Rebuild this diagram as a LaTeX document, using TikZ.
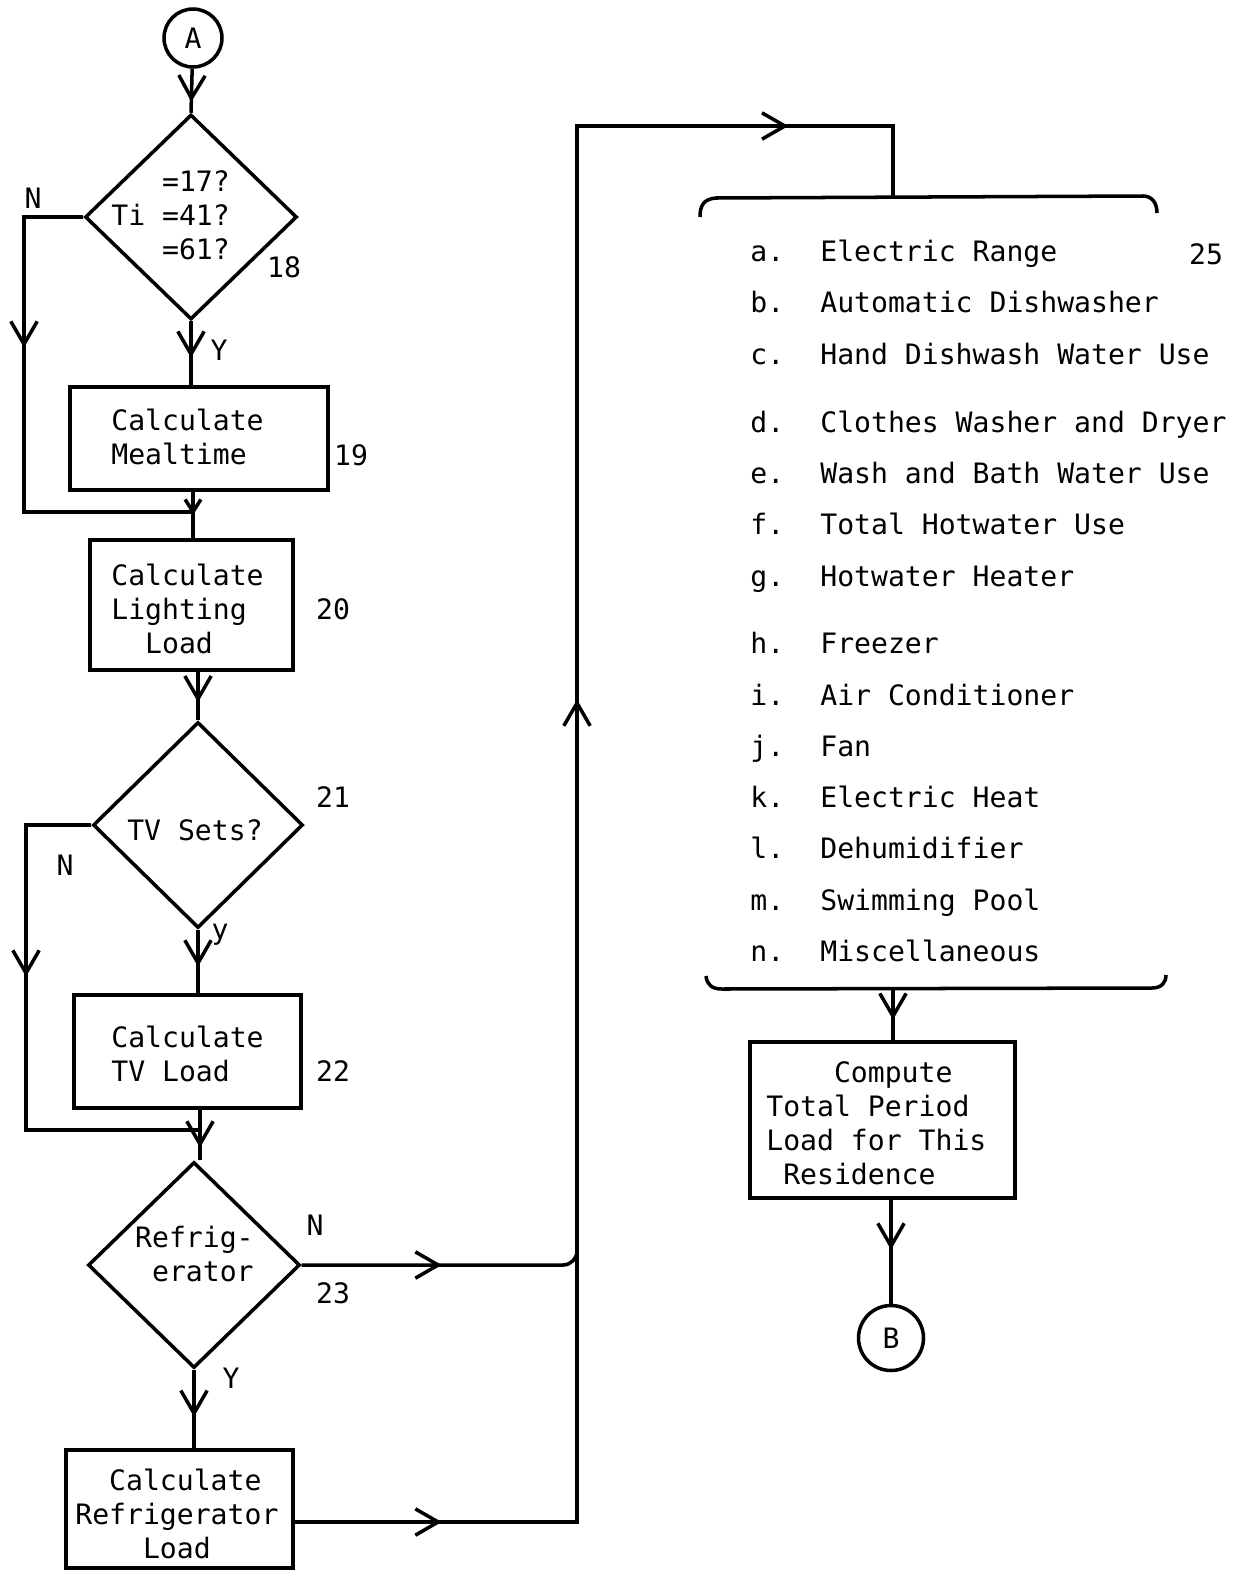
\documentclass[tikz,border=0pt]{standalone}
\usepackage{fontspec}
\newfontfamily\mono{DejaVu Sans Mono}
\usetikzlibrary{shapes.geometric,arrows.meta,decorations.markings}
\begin{document}
\begin{tikzpicture}[x=0.02cm,y=-0.02cm,
  ln/.style={line width=2pt},
  myv/.tip={Straight Barb[length=13pt,width=15pt]},
  smallv/.tip={Straight Barb[length=7pt,width=9pt]},
  midv/.style={postaction={decorate,decoration={markings,mark=at position #1 with {\arrow{myv}}}}},
  minv/.style={postaction={decorate,decoration={markings,mark=at position #1 with {\arrow{smallv}}}}},
  boxs/.style={draw,line width=2pt,rectangle,inner sep=0pt},
  dia/.style={draw,line width=2pt,diamond,inner sep=0pt},
  circ/.style={draw,line width=2pt,circle,inner sep=0pt},
  txt/.style={font=\mono\fontsize{16}{19.4}\selectfont,inner sep=0pt},
  ]
\useasboundingbox (0,0) rectangle (1250,1572);
% terminals
\node[circ,txt,minimum size=1.16cm] (A) at (193,38) {A};
\node[circ,txt,minimum size=1.3cm] (B) at (891,1338) {B};
% decision 18
\node[dia,minimum width=4.24cm,minimum height=4.1cm] (d18) at (191,217) {};
\node[txt,align=left,anchor=west] (t18) at (111,215) {\phantom{Ti\ }=17?\\Ti =41?\\\phantom{Ti\ }=61?};
\node[txt] (n18) at (284,267) {18};
% box 19
\node[boxs,minimum width=5.16cm,minimum height=2.06cm] (b19) at (199,438.5) {};
\node[txt,align=left,anchor=west] (t19) at (111,437) {Calculate\\Mealtime};
\node[txt] (n19) at (351,455) {19};
% box 20
\node[boxs,minimum width=4.06cm,minimum height=2.6cm] (b20) at (191.5,605) {};
\node[txt,align=left,anchor=west] (t20) at (111,609) {Calculate\\Lighting\\\phantom{Ca}Load};
\node[txt] (n20) at (333,609) {20};
% decision 21
\node[dia,minimum width=4.2cm,minimum height=4.12cm] (d21) at (198,825) {};
\node[txt] (t21) at (195,830) {TV Sets?};
\node[txt] (n21) at (333,797) {21};
% box 22
\node[boxs,minimum width=4.54cm,minimum height=2.26cm] (b22) at (187.5,1051.5) {};
\node[txt,align=left,anchor=west] (t22) at (111,1054) {Calculate\\TV Load};
\node[txt] (n22) at (333,1071) {22};
% decision 23
\node[dia,minimum width=4.24cm,minimum height=4.12cm] (d23) at (194,1265) {};
\node[txt,align=right,anchor=east] (t23) at (254,1254) {Refrig-\\erator};
\node[txt] (n23) at (333,1293) {23};
% box 24
\node[boxs,minimum width=4.54cm,minimum height=2.36cm] (b24) at (179.5,1509) {};
\node[txt,align=left,anchor=west] (t24) at (75,1514) {\phantom{Re}Calculate\\Refrigerator\\\phantom{Refr}Load};
% compute box
\node[boxs,minimum width=5.3cm,minimum height=3.12cm] (bC) at (882.5,1120) {};
\node[txt,align=left,anchor=west] (tC) at (766,1123) {\phantom{Tota}Compute\\Total Period\\Load for This\\\phantom{T}Residence};
% branch labels
\node[txt] (lN1) at (33,198) {N};
\node[txt] (lY1) at (219,350) {Y};
\node[txt] (lN2) at (65,865) {N};
\node[txt] (lY2) at (220,935) {y};
\node[txt] (lN3) at (315,1225) {N};
\node[txt] (lY3) at (231,1378) {Y};
% list 25
\node[txt] (n25) at (1206,254) {25};
\foreach \l/\t/\y [count=\i] in {a/Electric Range/251, b/Automatic Dishwasher/302, c/Hand Dishwash Water Use/354, d/Clothes Washer and Dryer/422, e/Wash and Bath Water Use/473, f/Total Hotwater Use/524, g/Hotwater Heater/576, h/Freezer/643, i/Air Conditioner/695, j/Fan/746, k/Electric Heat/797, l/Dehumidifier/848, m/Swimming Pool/900, n/Miscellaneous/951}{
  \node[txt,anchor=base west] (L\i) at (750,\y+10) {\l.};
  \node[txt,anchor=base west] (T\i) at (820,\y+10) {\t};
}
% brackets
\draw[ln] (700,217) .. controls (700,205) and (704,199) .. (716,198) -- (1143,196) .. controls (1152,196) and (1157,203) .. (1157,213);
\draw[ln] (706,976) .. controls (707,985) and (712,989) .. (722,989) -- (1152,988) .. controls (1161,988) and (1166,983) .. (1166,975);
\coordinate (brt) at (893,197);
\coordinate (brb) at (893,989);
\coordinate (j1) at (193,512);
\coordinate (j2) at (200,1130);
% connectors
\draw[ln,midv=0.75] (A) -- (d18.north);
\draw[ln,midv=0.57] (d18.south) -- (d18.south |- b19.north);
\draw[ln,midv=3.8cm] (d18.west) -- (24,217) -- (24,512) -- (j1);
\draw[ln,minv=0.5] (j1 |- b19.south) -- (j1 |- b20.north);
\draw[ln,midv=0.63] (d21.north |- b20.south) -- (d21.north);
\draw[ln,midv=4.34cm] (d21.west) -- (26,825) -- (26,1130) -- (j2);
\draw[ln,midv=0.58] (d21.south) -- (d21.south |- b22.north);
\draw[ln,midv=0.75] (j2 |- b22.south) -- (j2 |- d23.north);
\draw[ln,midv=0.6] (d23.south) -- (d23.south |- b24.north);
\draw[ln,midv=2.8cm,rounded corners=8] (d23.east) -- (577,1265) -- (577,1245);
\draw[ln,midv=2.94cm,midv=22.1cm,midv=37.8cm] (b24.east |- 0,1522) -- (577,1522) -- (577,126) -- (893,126) -- (brt);
\draw[ln,midv=0.6] (brb) -- (brb |- bC.north);
\draw[ln,midv=0.48] (bC.south -| B) -- (B);
\end{tikzpicture}
\end{document}
